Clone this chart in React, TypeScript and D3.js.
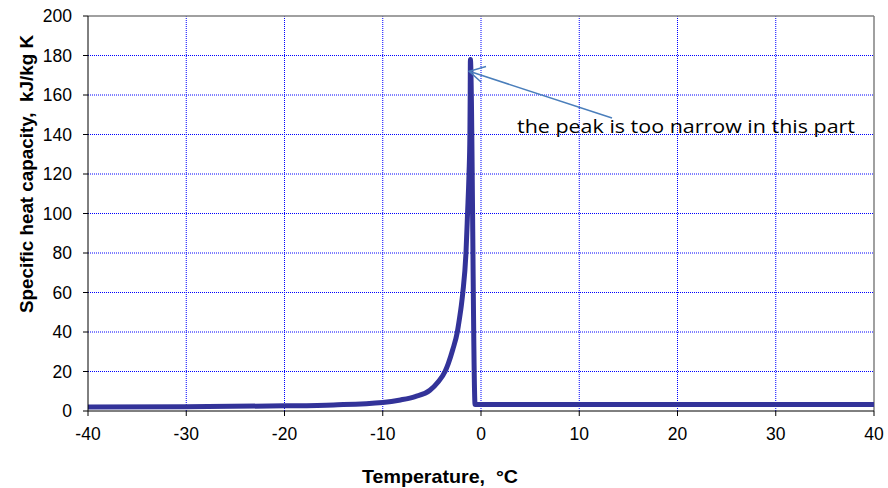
import React from "react";
import * as d3 from "d3";

const temperatures = [-40, -30, -20, -15, -10, -8.2, -6.7, -5.2, -4.35, -3.66, -3.33, -2.88, -2.41, -2.2, -2.0, -1.85, -1.53, -1.37, -1.22, -1.13, -1.1, -1.08, -0.6, 40];
const heatCapacity = [2.0, 2.2, 2.6, 3.1, 4.3, 5.6, 7.3, 10.5, 14.8, 20, 24, 31, 40, 46.5, 53.5, 60, 80, 100, 120, 140, 160, 178, 3.3, 3.3];
const xTicks = [-40, -30, -20, -10, 0, 10, 20, 30, 40];
const yTicks = [0, 20, 40, 60, 80, 100, 120, 140, 160, 180, 200];
const xTitle = "Temperature,  °C";
const yTitle = "Specific heat capacity,  kJ/kg K";
const annotation = "the peak is too narrow in this part";

export default function App() {
  const W = 888, H = 488;
  const left = 88, right = 874, top = 16, bottom = 411;
  const x = d3.scaleLinear().domain([-40, 40]).range([left, right]);
  const y = d3.scaleLinear().domain([0, 200]).range([bottom, top]);
  const pts = temperatures.map((t, i) => [t, heatCapacity[i]] as [number, number]);
  const line = d3.line<[number, number]>().x(d => x(d[0])).y(d => y(d[1])).curve(d3.curveMonotoneX);
  const font = "'Liberation Sans', Arial, sans-serif";
  const tipX = x(-1.2), tipY = y(172);
  return (
    <svg width={W} height={H} style={{ position: "absolute", left: 0, top: 0, background: "#fff" }}>
      {yTicks.filter(v => v > 0 && v < 200).map(v => (
        <line key={"gy" + v} x1={left} x2={right} y1={y(v)} y2={y(v)} stroke="#0000ff" strokeWidth={1} strokeDasharray="1,1" />
      ))}
      {xTicks.filter(v => v > -40 && v < 40).map(v => (
        <line key={"gx" + v} x1={x(v)} x2={x(v)} y1={top} y2={bottom} stroke="#0000ff" strokeWidth={1} strokeDasharray="1,1" />
      ))}
      <line x1={left} x2={right} y1={top} y2={top} stroke="#808080" strokeWidth={1.5} />
      <line x1={right} x2={right} y1={top} y2={bottom} stroke="#808080" strokeWidth={1.5} />
      <path d={line(pts) || ""} fill="none" stroke="#333399" strokeWidth={5} strokeLinejoin="miter" />
      <line x1={left} x2={left} y1={top} y2={bottom} stroke="#000" strokeWidth={1} />
      <line x1={left} x2={right} y1={bottom} y2={bottom} stroke="#000" strokeWidth={1} />
      {yTicks.map(v => (
        <g key={"ty" + v}>
          <line x1={left - 5} x2={left} y1={y(v)} y2={y(v)} stroke="#000" />
          <text x={left - 16} y={y(v)} dy="0.36em" textAnchor="end" fontFamily={font} fontSize={17.5} fill="#000">{v}</text>
        </g>
      ))}
      {xTicks.map(v => (
        <g key={"tx" + v}>
          <line x1={x(v)} x2={x(v)} y1={bottom} y2={bottom + 5} stroke="#000" />
          <text x={x(v)} y={440} textAnchor="middle" fontFamily={font} fontSize={17.5} fill="#000">{v}</text>
        </g>
      ))}
      <text x={440} y={483} textAnchor="middle" fontFamily={font} fontSize={19} fontWeight="bold" fill="#000" style={{ whiteSpace: "pre" }} textLength={156} lengthAdjust="spacingAndGlyphs">{xTitle}</text>
      <text transform={`translate(33,174) rotate(-90)`} textAnchor="middle" fontFamily={font} fontSize={17.5} fontWeight="bold" fill="#000" style={{ whiteSpace: "pre" }} textLength={278} lengthAdjust="spacingAndGlyphs">{yTitle}</text>
      <line x1={612} y1={118} x2={tipX} y2={tipY} stroke="#4a7ebb" strokeWidth={1.5} />
      <polyline points={`486,66.5 ${tipX},${tipY} 481,82`} fill="none" stroke="#4a7ebb" strokeWidth={1.5} />
      <text x={517} y={133} fontFamily="'Open Sans', 'Noto Sans', sans-serif" fontSize={18.5} fill="#000" textLength={338} lengthAdjust="spacingAndGlyphs">{annotation}</text>
    </svg>
  );
}
